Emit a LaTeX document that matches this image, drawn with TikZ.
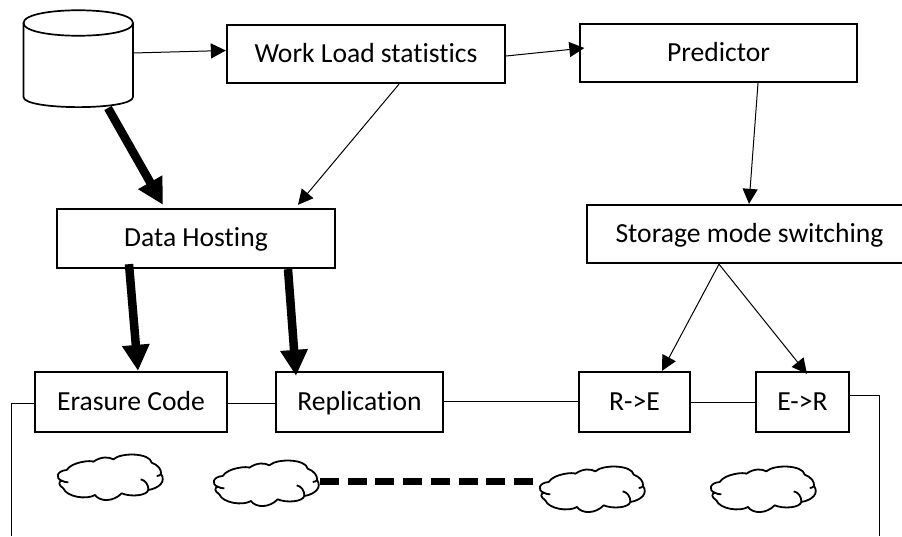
\documentclass[tikz,border=0pt]{standalone}
\usepackage{fontspec}
\setmainfont[Ligatures=CommonOff]{Carlito}
\usetikzlibrary{arrows.meta,calc}
\tikzset{
  x=1pt,y=-1pt,
  procbox/.style={draw,line width=2.3pt,inner sep=0pt,font=\fontsize{27.6}{30}\selectfont,text height=20pt,text depth=4pt},
  thinarrow/.style={draw,line width=1pt,-{Triangle[length=15pt,width=15pt]}},
  thickarrow/.style={draw,line width=8.5pt,-{Triangle[length=26pt,width=26pt]}},
  link/.style={draw,line width=1pt},
  linkdash/.style={draw,line width=7pt,dash pattern=on 19pt off 8.7pt},
  cloudshape/.pic={
    \coordinate (-w) at (-6,14);
    \coordinate (-e) at (107,20);
    \draw[line width=1.8pt,fill=white,line join=round]
      (9.7,15) .. controls (14.7,6.7) and (34.7,5) .. (36.3,6.7)
      .. controls (44.7,1) and (52,2) .. (56.3,4.3)
      .. controls (64.7,-3) and (93,-2) .. (94.7,7.7)
      .. controls (101.3,10) and (104.7,15) .. (104,19)
      .. controls (109,26) and (103,33) .. (91.3,35)
      .. controls (89.7,41) and (73,42) .. (64.7,38.3)
      .. controls (56.3,47) and (43,47) .. (38,40)
      .. controls (29.7,45) and (9.7,42) .. (6.3,33.3)
      .. controls (1.3,30) and (1.3,27) .. (4.7,25.7)
      .. controls (-2,23.3) and (-0.3,15.7) .. (9.7,15) -- cycle;
    \draw[line width=1.8pt] (83.7,24.3) .. controls (88,25) and (92,30) .. (91.3,35);
    \draw[line width=1.8pt] (4.7,25.7) .. controls (7,27) and (9,27.3) .. (11.3,27.3);
    \draw[line width=1.8pt] (104,19) .. controls (103,20.5) and (101.5,20.8) .. (99.7,21);
  }
}
\begin{document}
\begin{tikzpicture}
\useasboundingbox (0,0) rectangle (902,536);
\node[procbox,minimum width=278pt,minimum height=58pt] (wl) at (366,54) {Work Load statistics};
\node[procbox,minimum width=277pt,minimum height=58pt] (pr) at (718.5,53) {Predictor};
\node[procbox,minimum width=278pt,minimum height=59pt] (dh) at (196,238.5) {Data Hosting};
\node[procbox,minimum width=325pt,minimum height=58pt] (sm) at (749.5,234) {Storage mode switching};
\node[procbox,minimum width=192pt,minimum height=60pt] (ec) at (131,402) {Erasure Code};
\node[procbox,minimum width=167pt,minimum height=60pt] (re) at (359.5,402) {Replication};
\node[procbox,minimum width=111pt,minimum height=60pt] (rte) at (634.5,402) {R->E};
\node[procbox,minimum width=93pt,minimum height=60pt] (etr) at (802.5,402) {E->R};
\node[minimum width=110pt,minimum height=98pt,inner sep=0pt,outer sep=0pt] (db) at (78,59) {};
\draw[line width=1.7pt]
  (23.5,23) .. controls (23.5,6) and (133,6) .. (133,23)
  -- (133,97) .. controls (133,110.5) and (23.5,110.5) .. (23.5,97) -- cycle;
\draw[line width=1.7pt] (23.5,23) .. controls (23.5,40) and (133,40) .. (133,23);
\coordinate (ll) at (11,536);
\coordinate (lr) at (879,536);
\pic (c1) at (57,455) {cloudshape};
\pic (c2) at (213,461) {cloudshape};
\pic (c3) at (539,467) {cloudshape};
\pic (c4) at (710,467) {cloudshape};
\path[thinarrow] ([yshift=6pt]db.east) -- ([yshift=3.5pt]wl.west);
\path[thinarrow] ([yshift=-2pt]wl.east) -- ([xshift=5.5pt,yshift=5pt]pr.west);
\path[thinarrow] ([xshift=33pt]wl.south) -- ([xshift=102pt,yshift=3pt]dh.north);
\path[thinarrow] ([xshift=39.5pt]pr.south) -- ([xshift=-0.5pt]sm.north);
\path[thinarrow] ([xshift=-30.5pt]sm.south) -- ([xshift=27.5pt]rte.north);
\path[thinarrow] ([xshift=-30.5pt]sm.south) -- ([xshift=4.5pt,yshift=-3pt]etr.north);
\path[thickarrow] ([xshift=30pt]db.south) -- ([xshift=-33pt,yshift=3pt]dh.north);
\path[thickarrow] ([xshift=-67pt,yshift=5pt]dh.south) -- ([xshift=7pt]ec.north);
\path[thickarrow] ([xshift=92pt]dh.south) -- ([xshift=-63.5pt,yshift=-5pt]re.north);
\path[link] ([yshift=-1pt]ec.east) -- ([yshift=-1pt]re.west);
\path[link] ([yshift=1pt]re.east) -- ([yshift=1pt]rte.west);
\path[link] (rte.east) -- (etr.west);
\path[link] ([yshift=-1.5pt]ec.west) -| (ll);
\path[link] ([yshift=7pt]etr.east) -| (lr);
\path[linkdash] (c2-e) -- (c3-w);
\end{tikzpicture}
\end{document}
